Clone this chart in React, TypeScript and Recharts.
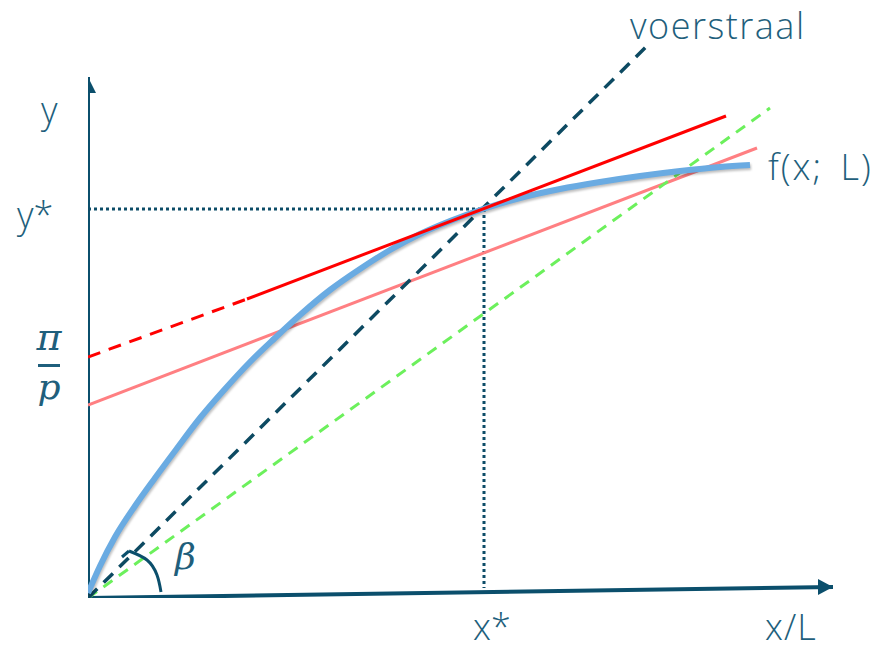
import {ComposedChart, Line, XAxis, YAxis} from "recharts";

// units: 1 = 100px, origin at the corner of the axes
const curve = [
  {x: 0, y: 0.05},
  {x: 0.12, y: 0.32},
  {x: 0.27, y: 0.61},
  {x: 0.47, y: 0.92},
  {x: 0.67, y: 1.2},
  {x: 0.87, y: 1.47},
  {x: 1.12, y: 1.8},
  {x: 1.37, y: 2.09},
  {x: 1.62, y: 2.36},
  {x: 1.87, y: 2.6},
  {x: 2.12, y: 2.83},
  {x: 2.42, y: 3.08},
  {x: 2.72, y: 3.29},
  {x: 3.02, y: 3.48},
  {x: 3.32, y: 3.64},
  {x: 3.62, y: 3.77},
  {x: 3.95, y: 3.89},
  {x: 4.32, y: 4.0},
  {x: 4.72, y: 4.09},
  {x: 5.12, y: 4.16},
  {x: 5.52, y: 4.22},
  {x: 5.92, y: 4.27},
  {x: 6.32, y: 4.31},
  {x: 6.62, y: 4.33},
];
const voerstraal = [
  {x: 0, y: 0},
  {x: 5.6, y: 5.53},
];
const groenLijn = [
  {x: 0, y: 0},
  {x: 6.82, y: 4.9},
];
const raaklijn = [
  {x: 1.59, y: 2.99},
  {x: 6.38, y: 4.82},
];
const raaklijnStreep = [
  {x: 0, y: 2.41},
  {x: 1.59, y: 2.99},
];
const roze = [
  {x: 0, y: 1.93},
  {x: 6.69, y: 4.5},
];
const yStarLijn = [
  {x: 0, y: 3.89},
  {x: 3.96, y: 3.89},
];
const xStarLijn = [
  {x: 3.96, y: 3.89},
  {x: 3.96, y: 0.1},
];
const xAs = [
  {x: 0, y: 0},
  {x: 7.45, y: 0.11},
];
const yAs = [
  {x: 0, y: 0},
  {x: 0, y: 5.21},
];
const haakje = [
  {x: 0.34, y: 0.41},
  {x: 0.41, y: 0.47},
];
const boog = [
  {x: 0.41, y: 0.47},
  {x: 0.59, y: 0.38},
  {x: 0.69, y: 0.23},
  {x: 0.73, y: 0.06},
];

const AXIS = "#0b4f6c";
const TEXT = "#1f5f7c";
const font = "'Open Sans', sans-serif";

function arrowUp(props: any) {
  const {cx, cy, index} = props;
  if (index !== 1) return <g key={index} />;
  return (
    <polygon
      key={index}
      points={`${cx},${cy} ${cx - 8},${cy + 16} ${cx + 8},${cy + 16}`}
      fill={AXIS}
    />
  );
}

function arrowRight(props: any) {
  const {cx, cy, index} = props;
  if (index !== 1) return <g key={index} />;
  return (
    <polygon
      key={index}
      points={`${cx},${cy} ${cx - 15},${cy - 8} ${cx - 15},${cy + 8}`}
      fill={AXIS}
    />
  );
}

export default function App() {
  return (
    <div style={{position: "relative", width: 888, height: 651}}>
      <style>{"body{margin:0}"}</style>
      <ComposedChart
        width={888}
        height={651}
        margin={{top: 0, right: 0, bottom: 53, left: 88}}
      >
        <XAxis type="number" dataKey="x" domain={[0, 8]} hide allowDataOverflow />
        <YAxis type="number" dataKey="y" domain={[0, 5.98]} hide allowDataOverflow />
        <Line data={xAs} dataKey="y" type="linear" stroke={AXIS} strokeWidth={4} dot={arrowRight} isAnimationActive={false} />
        <Line data={yAs} dataKey="y" type="linear" stroke={AXIS} strokeWidth={4} dot={arrowUp} isAnimationActive={false} />
        <Line data={yStarLijn} dataKey="y" type="linear" stroke="#0d4d68" strokeWidth={3} strokeDasharray="3 3" dot={false} isAnimationActive={false} />
        <Line data={xStarLijn} dataKey="y" type="linear" stroke="#0d4d68" strokeWidth={3} strokeDasharray="3 3" dot={false} isAnimationActive={false} />
        <Line data={roze} dataKey="y" type="linear" stroke="#ff7f82" strokeWidth={3} dot={false} isAnimationActive={false} />
        <Line data={groenLijn} dataKey="y" type="linear" stroke="#6cf05c" strokeWidth={3} strokeDasharray="11 8" dot={false} isAnimationActive={false} />
        <Line data={voerstraal} dataKey="y" type="linear" stroke="#0d4a62" strokeWidth={3.5} strokeDasharray="13 9" dot={false} isAnimationActive={false} />
        <Line data={curve} dataKey="y" type="monotone" stroke="#6aabe2" strokeWidth={6} dot={false} isAnimationActive={false} style={{filter: "drop-shadow(1px 2px 1px rgba(0,0,0,0.25))"}} />
        <Line data={raaklijnStreep} dataKey="y" type="linear" stroke="#ff0000" strokeWidth={3} strokeDasharray="13 9" dot={false} isAnimationActive={false} />
        <Line data={raaklijn} dataKey="y" type="linear" stroke="#ff0000" strokeWidth={3} dot={false} isAnimationActive={false} />
        <Line data={haakje} dataKey="y" type="linear" stroke={AXIS} strokeWidth={3} dot={false} isAnimationActive={false} />
        <Line data={boog} dataKey="y" type="natural" stroke={AXIS} strokeWidth={3} dot={false} isAnimationActive={false} />
      </ComposedChart>
      <svg
        width={888}
        height={651}
        style={{position: "absolute", left: 0, top: 0, pointerEvents: "none"}}
      >
        <g fill={TEXT} fontFamily={font} fontWeight={300} fontSize={36}>
          <text x={630} y={39} letterSpacing={1.5}>voerstraal</text>
          <text x={41} y={123}>y</text>
          <text x={17} y={228}>y*</text>
          <text x={768} y={180} letterSpacing={2} wordSpacing={6}>f(x; L)</text>
          <text x={473} y={640}>x*</text>
          <text x={765} y={640} letterSpacing={1}>x/L</text>
        </g>
        <g fill={TEXT} fontFamily="'DejaVu Serif', serif" fontStyle="italic">
          <text x={49} y={350} fontSize={38} textAnchor="middle">π</text>
          <text x={49} y={399} fontSize={36} textAnchor="middle">p</text>
          <text x={175} y={569} fontSize={36}>β</text>
        </g>
        <rect x={38} y={364} width={22} height={3} fill={TEXT} />
      </svg>
    </div>
  );
}
